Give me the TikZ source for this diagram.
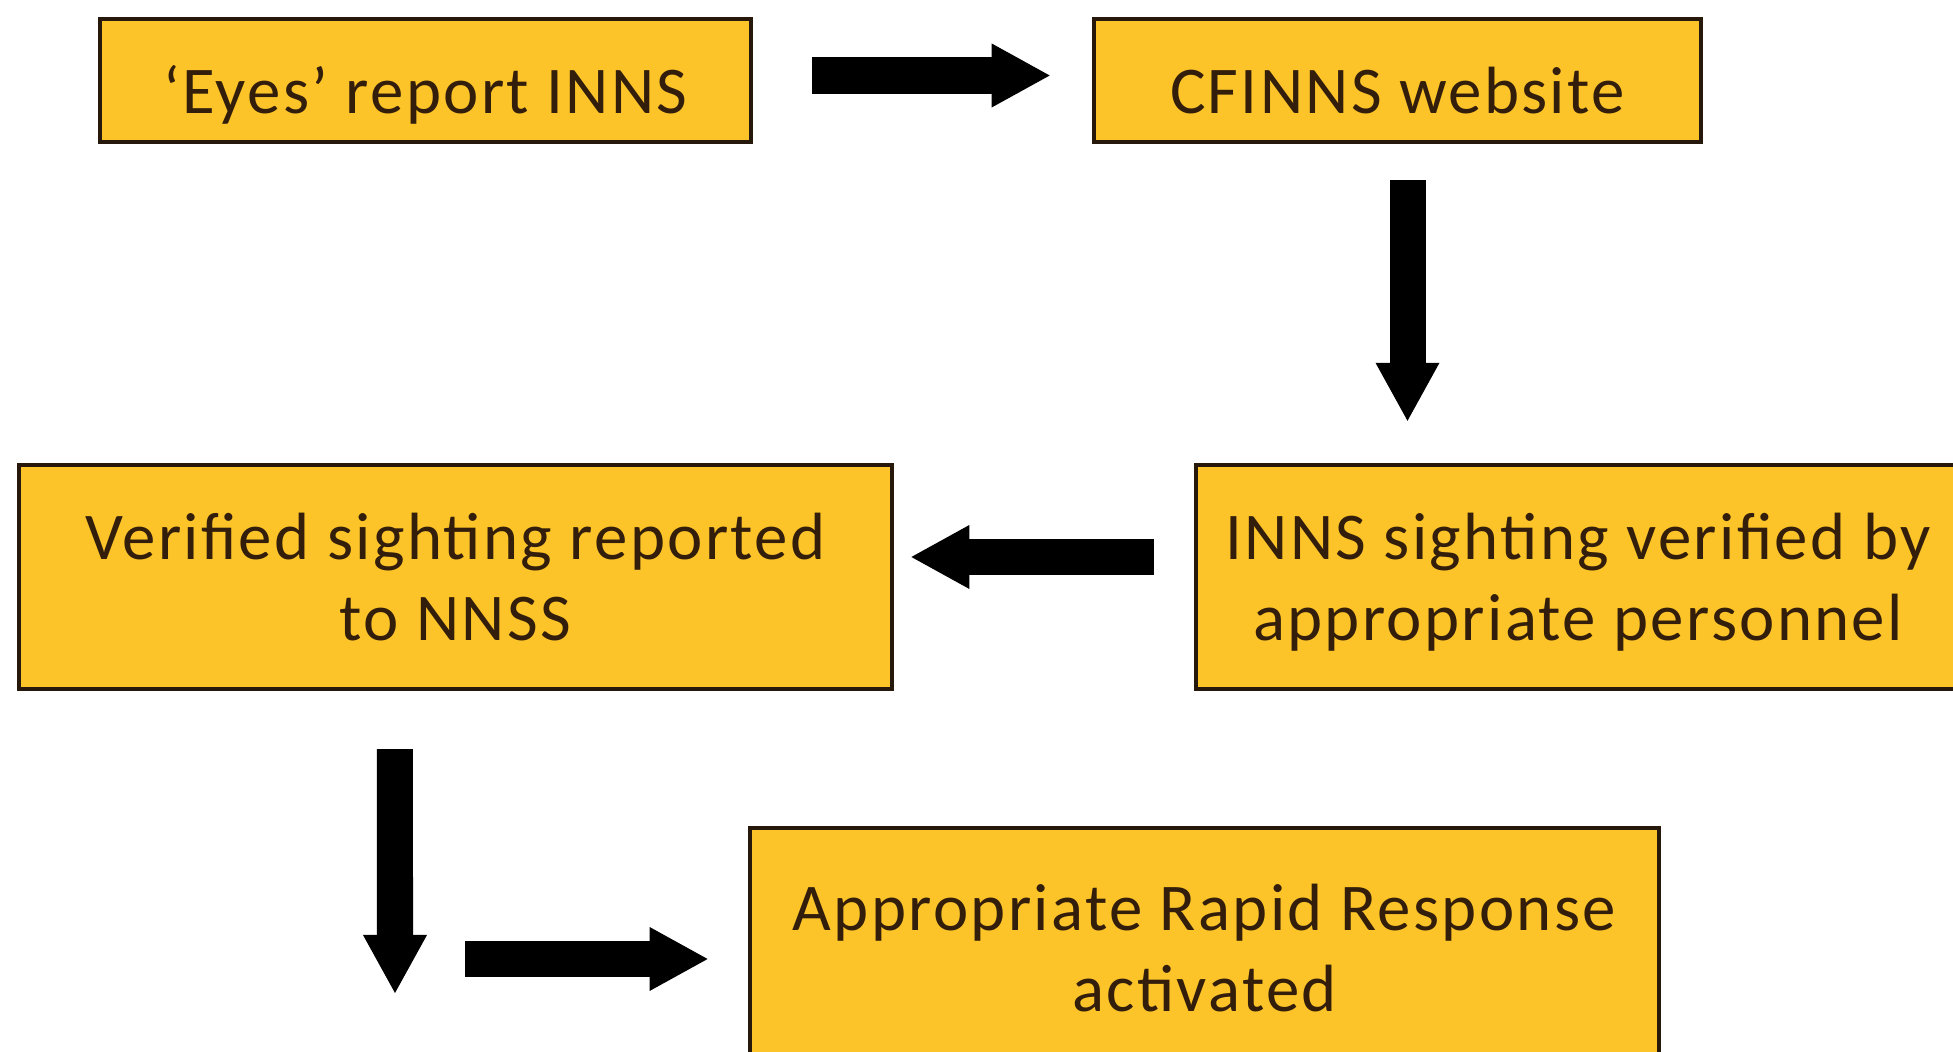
\documentclass[tikz,border=0pt]{standalone}
\usepackage{fontspec}
\setmainfont[LetterSpace=3.5]{Carlito}
\usetikzlibrary{arrows.meta}

\definecolor{boxfill}{RGB}{252,196,40}
\definecolor{boxline}{RGB}{38,24,10}
\definecolor{boxtext}{RGB}{50,30,10}

\begin{document}
\begin{tikzpicture}[x=0.01cm, y=-0.01cm,
    box/.style={draw=boxline, fill=boxfill, line width=1.2pt, text=boxtext,
      align=center, inner sep=0pt, font=\fontsize{19}{23}\selectfont},
    linebox/.style={box, minimum height=1.23cm, text height=0.66cm, text depth=0pt},
    blockarrow/.style={line width=0.36cm, black,
      -{Triangle[length=0.58cm, width=0.64cm, line width=0pt]}}]
	\clip (0,0) rectangle (1953,1052);
	\fill[white] (0,0) rectangle (1953,1052);
	% boxes
	\node[linebox, minimum width=6.51cm] (eyes) at (425.5,80.5) {‘Eyes’ report INNS};
	\node[linebox, minimum width=6.07cm] (web) at (1397.5,80.5) {CFINNS website};
	\node[box, minimum width=8.73cm, minimum height=2.24cm] (rep) at (455.5,577) {Verified sighting reported\\to NNSS};
	\node[box, minimum width=7.64cm, minimum height=2.24cm] (ver) at (1578,577) {INNS sighting verified by\\\raisebox{0pt}[\height][0pt]{appropriate personnel}};
	\node[box, minimum width=9.09cm, minimum height=2.40cm] (resp) at (1204.5,948) {Appropriate Rapid Response\\activated};
	\coordinate (drop) at (395,993);
	\coordinate (go) at (465,959);
	% arrows
	\draw[blockarrow, shorten <=0.59cm, shorten >=0.42cm] ([yshift=0.05cm]eyes.east) -- ([yshift=0.05cm]web.west);
	\draw[blockarrow, shorten <=0.36cm, shorten >=0.42cm] ([xshift=0.1cm]web.south) -- ([xshift=0.1cm]web.south |- ver.north);
	\draw[blockarrow, shorten <=0.40cm, shorten >=0.17cm] ([yshift=0.2cm]ver.west) -- ([yshift=0.2cm]rep.east);
	\draw[blockarrow, shorten <=0.58cm] ([xshift=-0.605cm]rep.south) -- (drop);
	\draw[blockarrow, shorten >=0.40cm] (go) -- (go -| resp.west);
\end{tikzpicture}
\end{document}
